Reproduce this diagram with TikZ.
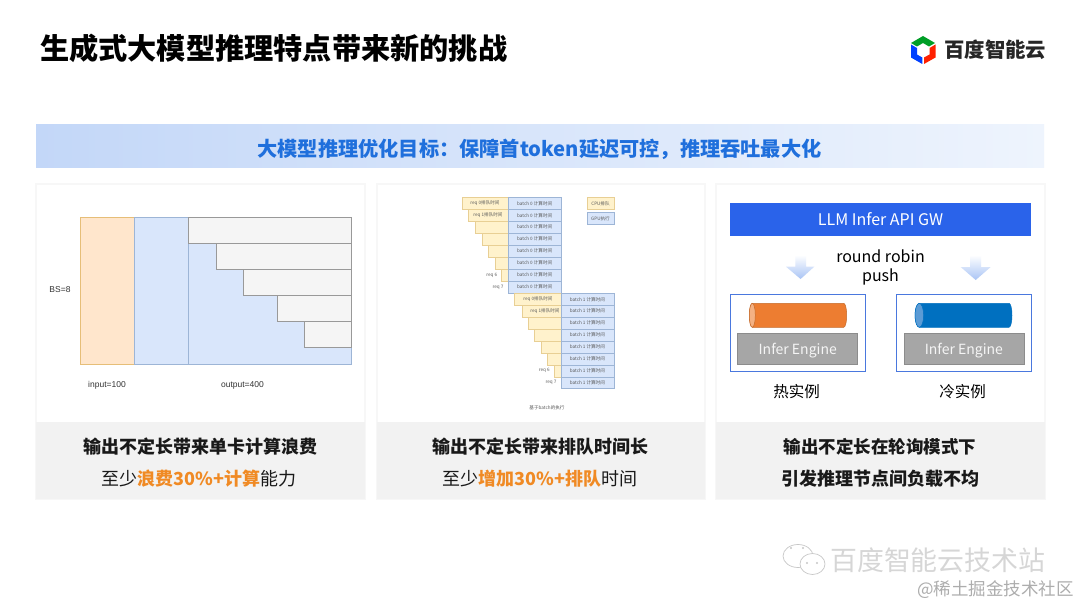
\documentclass[tikz,border=0pt]{standalone}
\usepackage{fontspec}
\setmainfont{Noto Sans CJK SC}
\newfontfamily\drawiofont{Liberation Sans}
\definecolor{goalblue}{HTML}{1F6FDC}
\definecolor{goalleft}{HTML}{C3D7F8}
\definecolor{goalright}{HTML}{EEF4FD}
\definecolor{hlorange}{HTML}{F08A24}
\definecolor{yellowfill}{HTML}{FFF2CC}
\definecolor{yellowline}{HTML}{E8CF94}
\definecolor{inputfill}{HTML}{FFE6CC}
\definecolor{inputline}{HTML}{E6BE78}
\definecolor{bluefill}{HTML}{D9E6FB}
\definecolor{blueline}{HTML}{9DB5D6}
\definecolor{gwblue}{HTML}{2A63EA}
\definecolor{boxline}{HTML}{4A78DE}
\definecolor{hotbody}{HTML}{ED7D31}
\definecolor{hotcap}{HTML}{F4B183}
\definecolor{hotline}{HTML}{C46A2A}
\definecolor{coldbody}{HTML}{0070C0}
\definecolor{coldcap}{HTML}{5B9BD5}
\definecolor{arrowblue}{HTML}{A9C4F5}
\tikzset{
  card/.style={fill=white,draw=black!3,line width=1.2pt},
  cardfoot/.style={fill=black!5,draw=none},
  headline/.style={font=\bfseries\fontsize{18}{18}\selectfont,text=black!90},
  subline/.style={font=\fontsize{18}{18}\selectfont,text=black!90},
  sketchlabel/.style={font=\drawiofont\fontsize{8.5}{9}\selectfont,text=black!80},
  cpucell/.style={fill=yellowfill,draw=yellowline,line width=0.4pt},
  gpucell/.style={fill=bluefill,draw=blueline,line width=0.4pt},
  minilabel/.style={font=\fontsize{4.6}{5}\selectfont,text=black!65,inner sep=0pt},
  batchcell/.style={gpucell,minilabel,minimum width=52.7pt,minimum height=11.95pt},
  leftover/.style={fill=black!4,draw=black!40,line width=0.6pt},
  enginebox/.style={fill=black!35,draw=black!45,line width=0.6pt,text=black!4,text depth=0pt,
    minimum width=120pt,minimum height=31pt,inner sep=0pt,font=\fontsize{14}{14}\selectfont},
  instancebox/.style={draw=boxline,line width=0.9pt,fill=white},
  pusharrow/.style={top color=white,bottom color=arrowblue,draw=none},
  wechat/.style={fill=white,draw=black!22,line width=0.7pt},
}
\begin{document}
\begin{tikzpicture}[x=1pt,y=-1pt]
\useasboundingbox[fill=white] (0,0) rectangle (1080,607);
% heading
\node[font=\bfseries\fontsize{29.2}{30}\selectfont,anchor=west,inner sep=0pt] (title) at (40,48) {生成式大模型推理特点带来新的挑战};
\fill[green!55!black!85!cyan] (923,36) -- (935,43) -- (929,46.5) -- (923,43) -- (917,46.5) -- (911,43) -- cycle;
\fill[blue!75!cyan] (911,44.5) -- (917,48) -- (917,54.5) -- (922.3,57.5) -- (922.3,64) -- (911,57.5) -- cycle;
\fill[red!75!orange] (935.5,44.5) -- (935.5,57.5) -- (924,64) -- (924,57.5) -- (929.5,54.5) -- (929.5,48) -- cycle;
\node[font=\bfseries\fontsize{20.4}{21}\selectfont,text=black!85,anchor=west,inner sep=0pt] (brand) at (944,50) {百度智能云};
% goal bar
\shade[left color=goalleft,right color=goalright] (36,125) rectangle (1044,168);
\node[font=\bfseries\fontsize{20.2}{21}\selectfont,text=goalblue] (goal) at (539.5,149) {大模型推理优化目标：保障首token延迟可控，推理吞吐最大化};
% three cards
\draw[card] (36,184) rectangle (365,499);
\draw[card] (377,184) rectangle (705,499);
\draw[card] (716,184) rectangle (1045,499);
\fill[cardfoot] (36,422) rectangle (365,499);
\fill[cardfoot] (377,422) rectangle (705,499);
\fill[cardfoot] (716,422) rectangle (1045,499);
\node[headline] (lossa) at (200,447) {输出不定长带来单卡计算浪费};
\node[subline] (lossb) at (199,479) {至少{\bfseries\color{hlorange}浪费30\%+计算}能力};
\node[headline] (queuea) at (540,447) {输出不定长带来排队时间长};
\node[subline] (queueb) at (540,479) {至少{\bfseries\color{hlorange}增加30\%+排队}时间};
\node[headline,font=\bfseries\fontsize{17.5}{18}\selectfont] (skewa) at (880,447) {输出不定长在轮询模式下};
\node[headline] (skewb) at (880,479) {引发推理节点间负载不均};
% left sketch
\draw[fill=inputfill,draw=inputline,line width=0.6pt] (80.3,217.3) rectangle (134.3,364.3);
\draw[gpucell,line width=0.6pt] (134.3,217.3) rectangle (351.7,364.3);
\draw[blueline,line width=0.6pt] (188.3,217.3) -- (188.3,364.3);
\draw[leftover] (188.3,217.3) rectangle (351.7,243.3);
\draw[leftover] (216.3,243.3) rectangle (351.7,269.3);
\draw[leftover] (243.3,269.3) rectangle (351.7,295.3);
\draw[leftover] (277.3,295.3) rectangle (351.7,321.3);
\draw[leftover] (304.3,321.3) rectangle (351.7,347.3);
\node[sketchlabel] (bs) at (60,290) {BS=8};
\node[sketchlabel] (input) at (107,385) {input=100};
\node[sketchlabel] (output) at (242.5,385) {output=400};
% middle sketch, batch 0
\draw[cpucell] (462,197.3) rectangle (508.3,209.3);
\draw[cpucell] (468.3,209.3) rectangle (508.3,221.3);
\draw[cpucell] (475.3,221.3) rectangle (508.3,233.2);
\draw[cpucell] (481.7,233.2) rectangle (508.3,245.2);
\draw[cpucell] (488,245.2) rectangle (508.3,257.1);
\draw[cpucell] (495.3,257.1) rectangle (508.3,269.1);
\draw[cpucell] (501,269.1) rectangle (508.3,281.1);
\node[batchcell] (a1) at (534.65,203.3) {batch 0 计算时间};
\node[batchcell] (a2) at (534.65,215.3) {batch 0 计算时间};
\node[batchcell] (a3) at (534.65,227.2) {batch 0 计算时间};
\node[batchcell] (a4) at (534.65,239.2) {batch 0 计算时间};
\node[batchcell] (a5) at (534.65,251.1) {batch 0 计算时间};
\node[batchcell] (a6) at (534.65,263.1) {batch 0 计算时间};
\node[batchcell] (a7) at (534.65,275.1) {batch 0 计算时间};
\node[batchcell] (a8) at (534.65,287) {batch 0 计算时间};
\node[minilabel] (areq0) at (485,203.3) {req 0排队时间};
\node[minilabel] (areq1) at (488,215.3) {req 1排队时间};
\node[minilabel] (areq6) at (491.7,275.1) {req 6};
\node[minilabel] (areq7) at (498,287) {req 7};
% middle sketch, batch 1
\draw[cpucell] (514,293.3) rectangle (561,305.2);
\draw[cpucell] (521.7,305.2) rectangle (561,317.1);
\draw[cpucell] (528,317.1) rectangle (561,329);
\draw[cpucell] (534.3,329) rectangle (561,340.9);
\draw[cpucell] (541.3,340.9) rectangle (561,352.8);
\draw[cpucell] (547.3,352.8) rectangle (561,364.8);
\draw[cpucell] (554.3,364.8) rectangle (561,376.8);
\node[batchcell] (b1) at (587.35,299.3) {batch 1 计算时间};
\node[batchcell] (b2) at (587.35,311.2) {batch 1 计算时间};
\node[batchcell] (b3) at (587.35,323.1) {batch 1 计算时间};
\node[batchcell] (b4) at (587.35,335) {batch 1 计算时间};
\node[batchcell] (b5) at (587.35,346.9) {batch 1 计算时间};
\node[batchcell] (b6) at (587.35,358.8) {batch 1 计算时间};
\node[batchcell] (b7) at (587.35,370.8) {batch 1 计算时间};
\node[batchcell] (b8) at (587.35,382.7) {batch 1 计算时间};
\node[minilabel] (breq0) at (538,299.3) {req 0排队时间};
\node[minilabel] (breq1) at (545,311.2) {req 1排队时间};
\node[minilabel] (breq6) at (544.3,370.8) {req 6};
\node[minilabel] (breq7) at (551,382.7) {req 7};
\node[minilabel] (basis) at (547,408) {基于batch的执行};
\node[cpucell,minilabel,minimum width=26.4pt,minimum height=12.4pt] (cpukey) at (600.5,203.5) {CPU排队};
\node[gpucell,minilabel,minimum width=26.4pt,minimum height=12.4pt] (gpukey) at (600.5,218.5) {GPU执行};
% right sketch
\node[fill=gwblue,text=white,text depth=0pt,minimum width=301pt,minimum height=33.6pt,inner sep=0pt,font=\fontsize{16}{16}\selectfont] (gw) at (880.5,219.5) {LLM Infer API GW};
\node[font=\fontsize{16}{19}\selectfont,align=center,inner sep=0pt] (rr) at (880.5,267) {round robin\\push};
\shade[pusharrow] (795.3,255) -- (806,255) -- (806,266.7) -- (814.3,266.7) -- (800.6,279) -- (786,266.7) -- (795.3,266.7) -- cycle;
\shade[pusharrow] (970,255) -- (981,255) -- (981,267) -- (990.7,267) -- (975.7,280) -- (960.7,267) -- (970,267) -- cycle;
\draw[instancebox] (730,294.3) rectangle (865.7,371.3);
\draw[instancebox] (896,294.3) rectangle (1031.7,371.3);
\draw[fill=hotbody,draw=hotline,line width=0.5pt] (752.3,303.3) -- (843.7,303.3) arc[start angle=90,end angle=-90,x radius=3pt,y radius=12pt] -- (752.3,327.3) arc[start angle=270,end angle=90,x radius=3pt,y radius=12pt] -- cycle;
\draw[fill=hotcap,draw=hotline,line width=0.5pt] (752.3,315.3) ellipse[x radius=3pt,y radius=12pt];
\draw[fill=coldbody,draw=coldbody,line width=0.5pt] (919.3,303.3) -- (1009,303.3) arc[start angle=90,end angle=-90,x radius=3pt,y radius=12pt] -- (919.3,327.3) arc[start angle=270,end angle=90,x radius=4.3pt,y radius=12pt] -- cycle;
\draw[fill=coldcap,draw=coldbody,line width=0.5pt] (919.3,315.3) ellipse[x radius=4.3pt,y radius=12pt];
\node[enginebox] (hotengine) at (797.7,348.8) {Infer Engine};
\node[enginebox] (coldengine) at (963.85,348.8) {Infer Engine};
\node[font=\fontsize{15.5}{16}\selectfont,inner sep=0pt] (hot) at (796.7,391.5) {热实例};
\node[font=\fontsize{15.5}{16}\selectfont,inner sep=0pt] (cold) at (962.5,391.5) {冷实例};
% watermark
\draw[wechat] (798,556) ellipse[x radius=15pt,y radius=11.5pt];
\draw[wechat] (812.5,564) ellipse[x radius=12.5pt,y radius=10.5pt];
\fill[black!22] (791,548) circle[radius=1.2pt] (803,548) circle[radius=1.2pt] (807,563) circle[radius=1.2pt] (817,563) circle[radius=1.2pt];
\node[font=\fontsize{26.9}{27}\selectfont,text=black!16,anchor=west,inner sep=0pt] (station) at (830,560) {百度智能云技术站};
\node[font=\fontsize{17.5}{18}\selectfont,text=black!32,anchor=east,inner sep=0pt] (juejin) at (1074,590) {@稀土掘金技术社区};
\end{tikzpicture}
\end{document}
